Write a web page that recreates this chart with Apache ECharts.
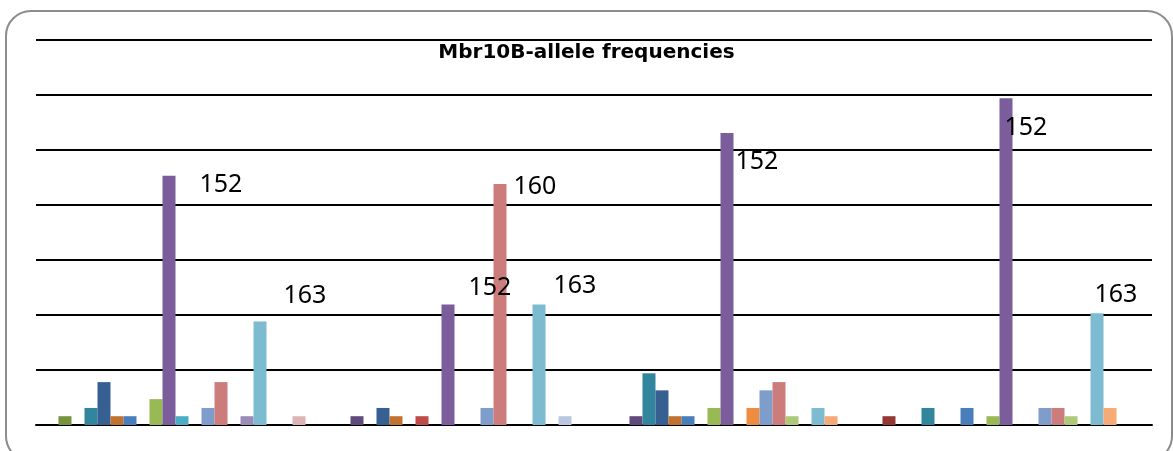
<!DOCTYPE html>
<html>
<head>
<meta charset="utf-8">
<script src="https://cdn.jsdelivr.net/npm/echarts@6/dist/echarts.min.js"></script>
<style>
  html, body { margin: 0; padding: 0; background: #fff; }
  #chart { width: 1173px; height: 451px; }
</style>
</head>
<body>
<div id="chart"></div>
<script>
// populations (x categories, not labelled in the original)
const populations = ['Pop 1', 'Pop 2', 'Pop 3', 'Pop 4']

// allele sizes, one series each
const alleles = ['134', '136', '138', '140', '142', '144', '146', '148', '150', '152',
  '154', '156', '158', '160', '161', '162', '163', '164', '166', '170']

// allele frequencies per population, in allele order
const pop1 = [0, 0.016, 0, 0.031, 0.078, 0.016, 0.016, 0, 0.047, 0.453,
  0.016, 0, 0.031, 0.078, 0, 0.016, 0.188, 0, 0, 0.016]
const pop2 = [0, 0, 0.016, 0, 0.031, 0.016, 0, 0.016, 0, 0.219,
  0, 0, 0.031, 0.438, 0, 0, 0.219, 0, 0.016, 0]
const pop3 = [0, 0, 0.016, 0.094, 0.063, 0.016, 0.016, 0, 0.031, 0.531,
  0, 0.031, 0.063, 0.078, 0.016, 0, 0.031, 0.016, 0, 0]
const pop4 = [0.016, 0, 0, 0.031, 0, 0, 0.031, 0, 0.016, 0.594,
  0, 0, 0.031, 0.031, 0.016, 0, 0.203, 0.031, 0, 0]

const yTicks = [0, 0.1, 0.2, 0.3, 0.4, 0.5, 0.6, 0.7]

const colors = ['#953735', '#77933c', '#5f4a7b', '#31859c', '#376092', '#c2722f',
  '#4a7ebb', '#be4b48', '#98b954', '#7a5d9a', '#4bacc6', '#ee8d3f',
  '#7f9dcb', '#cb7c7b', '#afc97a', '#9c8ab9', '#7dbbd0', '#f6ab76',
  '#b9c8e0', '#ddb5b5']

// hand placed data labels: which population / allele, and offset from bar top-left
const labelSpots = [
  { pop: 0, allele: 9, dx: 37, dy: 9 },
  { pop: 0, allele: 16, dx: 30, dy: -26 },
  { pop: 1, allele: 9, dx: 27, dy: -17 },
  { pop: 1, allele: 13, dx: 20, dy: 3 },
  { pop: 1, allele: 16, dx: 21, dy: -19 },
  { pop: 2, allele: 9, dx: 15, dy: 29 },
  { pop: 3, allele: 9, dx: 5, dy: 30 },
  { pop: 3, allele: 16, dx: 4, dy: -18 }
]

const pops = [pop1, pop2, pop3, pop4]

const series = alleles.map((name, i) => {
  let data = pops.map((p, j) => {
    let spot = labelSpots.find(s => s.pop === j && s.allele === i)
    if (!spot) return p[i]
    return {
      value: p[i],
      label: {
        show: true,
        formatter: '{a}',
        position: [spot.dx, spot.dy],
        align: 'left',
        verticalAlign: 'middle',
        fontFamily: 'Noto Sans',
        fontSize: 25,
        color: '#000'
      }
    }
  })
  return {
    name,
    type: 'bar',
    barGap: '0%',
    barCategoryGap: '6.8%',
    itemStyle: { color: colors[i] },
    data
  }
})

const chart = echarts.init(document.getElementById('chart'), null, { renderer: 'canvas' })
chart.setOption({
  animation: false,
  backgroundColor: '#fff',
  title: {
    text: 'Mbr10B-allele frequencies',
    left: 'center',
    top: 38,
    textStyle: {
      fontFamily: 'DejaVu Sans',
      fontWeight: 'bold',
      fontSize: 20,
      color: '#000'
    }
  },
  graphic: [{
    type: 'rect',
    shape: { x: 6, y: 11, width: 1166, height: 450, r: 25 },
    style: { fill: 'none', stroke: '#8c8c8c', lineWidth: 2 },
    z: -1
  }],
  grid: { left: 36, right: 21, top: 40, bottom: 26 },
  xAxis: {
    type: 'category',
    data: populations,
    axisLine: { show: true, lineStyle: { color: '#000', width: 2 } },
    axisTick: { show: false },
    axisLabel: { show: false }
  },
  yAxis: {
    type: 'value',
    min: yTicks[0],
    max: yTicks[yTicks.length - 1],
    interval: 0.1,
    axisLine: { show: false },
    axisTick: { show: false },
    axisLabel: { show: false },
    splitLine: { lineStyle: { color: '#000', width: 2 } }
  },
  series
})
</script>
</body>
</html>
